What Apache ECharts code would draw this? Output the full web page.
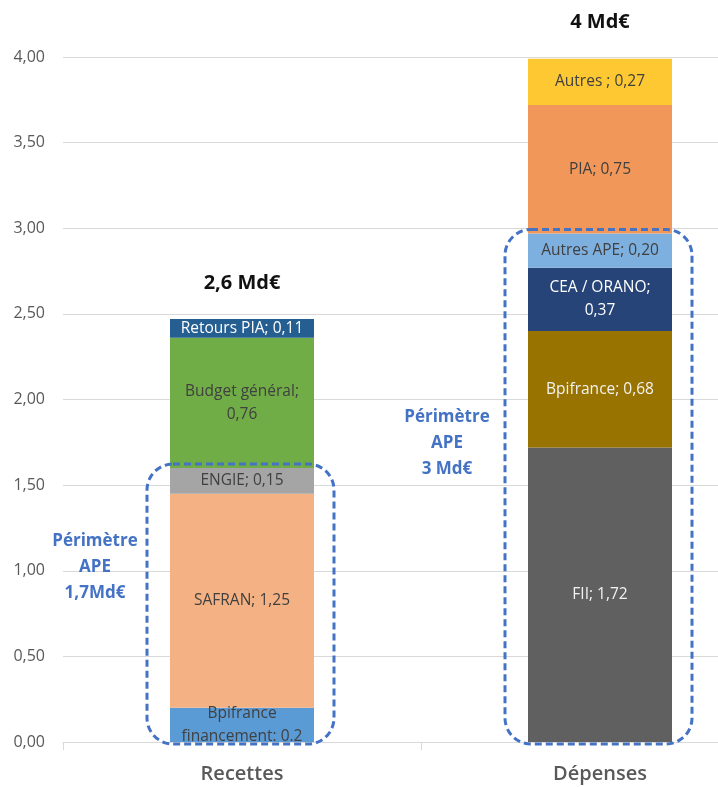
<!DOCTYPE html>
<html>
<head>
<meta charset="utf-8">
<script src="https://cdn.jsdelivr.net/npm/echarts@6/dist/echarts.min.js"></script>
<style>
  html, body { margin: 0; padding: 0; background: #fff; }
  #chart { width: 718px; height: 787px; }
</style>
</head>
<body>
<div id="chart"></div>
<script>
// Categories and stacked segments (Md€)
const categories = ['Recettes', 'Dépenses'];

const recettesNames = ['Bpifrance financement', 'SAFRAN', 'ENGIE', 'Budget général', 'Retours PIA'];
const recettesValues = [0.2, 1.25, 0.15, 0.76, 0.11];
const recettesLabels = ['Bpifrance\nfinancement: {raw}', 'SAFRAN; {v}', 'ENGIE; {v}', 'Budget général;\n{v}', 'Retours PIA; {v}'];
const recettesColors = ['#5b9bd5', '#f4b183', '#a5a5a5', '#70ad47', '#255e91'];
const recettesLabelColors = ['#404040', '#404040', '#404040', '#404040', '#ffffff'];

const depensesNames = ['FII', 'Bpifrance', 'CEA / ORANO', 'Autres APE', 'PIA', 'Autres'];
const depensesValues = [1.72, 0.68, 0.37, 0.20, 0.75, 0.27];
const depensesLabels = ['FII; {v}', 'Bpifrance; {v}', 'CEA / ORANO;\n{v}', 'Autres APE; {v}', 'PIA; {v}', 'Autres ; {v}'];
const depensesColors = ['#606060', '#997300', '#264478', '#7eb0df', '#f1975a', '#fec832'];
const depensesLabelColors = ['#f2f2f2', '#f2f2f2', '#ffffff', '#404040', '#404040', '#404040'];

// Totals printed above each column
const totalLabels = ['2,6 Md€', '4 Md€'];

// APE scope: number of bottom segments in each column, and its caption
const perimetreCounts = [3, 4];
const perimetreLabels = ['Périmètre\nAPE\n1,7Md€', 'Périmètre\nAPE\n3 Md€'];

const yTicks = { min: 0, max: 4, interval: 0.5 };

const frNum = v => v.toFixed(2).replace('.', ',');
const FONT = 'Open Sans';

function makeSeries(names, values, labels, colors, labelColors, catIndex) {
  return names.map((name, i) => {
    const data = categories.map((_, c) => (c === catIndex ? values[i] : '-'));
    return {
      name: name,
      type: 'bar',
      stack: 'total',
      barWidth: 144,
      data: data,
      itemStyle: { color: colors[i] },
      label: {
        show: true,
        position: 'inside',
        color: labelColors[i],
        fontFamily: FONT,
        fontSize: 15.5,
        lineHeight: 23,
        formatter: p => labels[i].replace('{v}', frNum(p.value)).replace('{raw}', String(p.value))
      },
      emphasis: { disabled: true }
    };
  });
}

const series = [
  ...makeSeries(recettesNames, recettesValues, recettesLabels, recettesColors, recettesLabelColors, 0),
  ...makeSeries(depensesNames, depensesValues, depensesLabels, depensesColors, depensesLabelColors, 1)
];

const chart = echarts.init(document.getElementById('chart'), null, { renderer: 'canvas' });

// The plot area runs past the right edge of the page: each category is 358px wide
chart.setOption({
  animation: false,
  backgroundColor: '#ffffff',
  grid: { left: 63, width: 716, top: 57, bottom: 45, outerBoundsMode: 'none', containLabel: false },
  xAxis: {
    type: 'category',
    data: categories,
    axisLine: { lineStyle: { color: '#d9d9d9', width: 1 } },
    axisTick: { show: true, length: 8, lineStyle: { color: '#d9d9d9' } },
    axisLabel: { color: '#595959', fontFamily: FONT, fontSize: 20, fontWeight: 600, margin: 22 }
  },
  yAxis: {
    type: 'value',
    min: yTicks.min,
    max: yTicks.max,
    interval: yTicks.interval,
    axisLine: { show: false },
    axisTick: { show: false },
    splitLine: { lineStyle: { color: '#d9d9d9', width: 1 } },
    axisLabel: {
      color: '#595959',
      fontFamily: FONT,
      fontSize: 16,
      margin: 18,
      formatter: v => frNum(v)
    }
  },
  series: series
});

// Annotations anchored on the axes: totals, dashed APE scope boxes and captions
function drawAnnotations() {
  const columns = [recettesValues, depensesValues];
  const captionAt = [1.02, 1.745];
  const captionShift = [52, 58];
  const halfBar = 72;
  const pad = 23;
  const elements = [];

  columns.forEach((vals, c) => {
    const total = vals.reduce((a, b) => a + b, 0);
    const topPt = chart.convertToPixel({ gridIndex: 0 }, [c, total]);
    elements.push({
      type: 'text',
      x: topPt[0],
      y: topPt[1] - 36,
      style: {
        text: totalLabels[c],
        fill: '#111111',
        font: 'bold 20px "Open Sans"',
        align: 'center',
        verticalAlign: 'middle'
      },
      z: 10
    });

    const scope = vals.slice(0, perimetreCounts[c]).reduce((a, b) => a + b, 0);
    const scopeTop = chart.convertToPixel({ gridIndex: 0 }, [c, scope]);
    const base = chart.convertToPixel({ gridIndex: 0 }, [c, 0]);
    const x0 = scopeTop[0] - halfBar - pad;
    const y0 = scopeTop[1] - 4;
    const w = (halfBar + pad) * 2 - 3;
    const h = base[1] + 2 - y0;
    elements.push({
      type: 'rect',
      shape: { x: x0, y: y0, width: w, height: h, r: 26 },
      style: { fill: 'none', stroke: '#4472c4', lineWidth: 3, lineDash: [7, 4] },
      z: 20
    });

    const cap = chart.convertToPixel({ gridIndex: 0 }, [c, captionAt[c]]);
    elements.push({
      type: 'text',
      x: x0 - captionShift[c],
      y: cap[1],
      style: {
        text: perimetreLabels[c],
        fill: '#4472c4',
        font: 'bold 17px "Open Sans"',
        lineHeight: 26,
        align: 'center',
        verticalAlign: 'middle'
      },
      z: 10
    });
  });

  chart.setOption({ graphic: { elements: elements } });
}

drawAnnotations();
</script>
</body>
</html>
